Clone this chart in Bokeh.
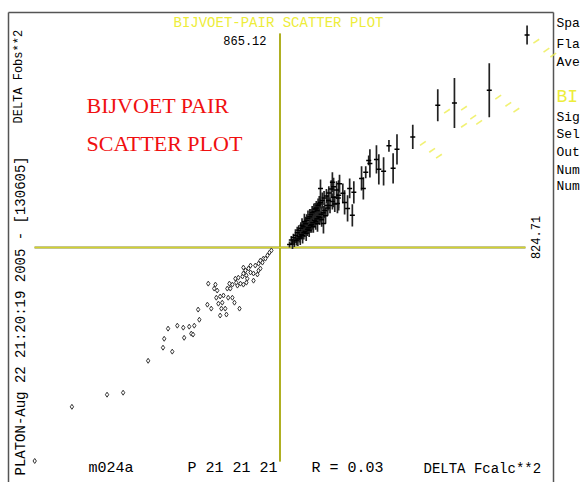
import math
from bokeh.plotting import figure
from bokeh.models import Range1d, ColumnDataSource
from bokeh.core.properties import value
from bokeh.embed import file_html
from bokeh.resources import INLINE

# ---- data -------------------------------------------------------------
FCALC_MAX = 824.71   # largest |DELTA Fcalc**2|
FOBS_MAX = 865.12    # largest |DELTA Fobs**2|

# negative Bijvoet differences (open diamonds)
neg_dfcalc = [-824, -699, -581, -527, -443, -393, -389, -362, -376, -345,
              -325, -322, -305, -298, -292, -288, -271, -275, -241, -217,
              -244, -231, -221, -211, -214, -201, -190, -201, -180, -197,
              -184, -207, -194, -174, -160, -153, -136, -177, -167, -160,
              -143, -133, -123, -113, -150, -140, -126, -113, -123, -106,
              -99, -89, -76, -83, -72, -59, -72, -66, -56, -42,
              -35, -89, -110, -123, -29, -49, -66, -99, -116, -147, -170]
neg_dfobs = [-863, -644, -595, -587, -458, -405, -369, -421, -328, -316,
             -324, -365, -320, -348, -352, -316, -292, -251, -146, -150,
             -231, -247, -166, -174, -203, -198, -194, -275, -271, -247,
             -247, -227, -223, -203, -203, -223, -247, -166, -166, -150,
             -154, -146, -150, -142, -126, -122, -117, -113, -81, -85,
             -101, -105, -109, -73, -65, -61, -93, -85, -45, -32,
             -20, -134, -126, -105, -12, -45, -53, -73, -93, -142, -146]

# positive Bijvoet differences with their standard uncertainties
pos_dfcalc = [830, 703, 586, 530, 446, 393, 366, 380, 348, 332,
              324, 302, 298, 288, 274, 280, 248, 234, 211, 243,
              227, 217, 197, 193, 180, 176, 163, 159, 146, 136,
              125,
              32, 38, 42, 45, 48, 52, 55, 58, 60, 63,
              65, 68, 70, 72, 74, 76, 78, 80, 82, 84,
              86, 88, 90, 92, 94, 96, 98, 100, 102, 104,
              106, 108, 110, 112, 114, 116, 118, 120, 122, 124,
              126, 128, 130, 132, 134, 136, 138, 140, 142, 145,
              148, 150, 153, 156, 160, 164, 168, 172, 176, 180,
              184, 190, 196, 200]
pos_dfobs = [859, 636, 584, 575, 447, 397, 411, 320, 308, 316,
             356, 340, 352, 304, 279, 239, 223, 239, 219, 130,
             158, 182, 211, 178, 203, 264, 190, 170, 97, 239,
             150,
             12, 30, 14, 40, 22, 50, 28, 60, 34, 70,
             44, 38, 78, 52, 90, 48, 84, 60, 104, 66,
             96, 58, 110, 74, 118, 80, 70, 124, 88, 132,
             92, 140, 100, 84, 146, 110, 156, 104, 160, 116,
             96, 170, 124, 176, 120, 182, 134, 112, 190, 140,
             200, 150, 128, 208, 160, 220, 170, 236, 186, 246,
             176, 232, 200, 258]
pos_sigma = [38, 109, 101, 65, 49, 61, 24, 61, 57, 61,
             57, 57, 20, 24, 49, 45, 45, 40, 40, 45,
             53, 49, 61, 40, 40, 40, 40, 40, 40, 36,
             32,
             12, 16, 20, 16, 20, 24, 20, 24, 28, 20,
             24, 28, 24, 20, 28, 32, 24, 28, 32, 24,
             28, 32, 24, 28, 32, 24, 28, 32, 28, 24,
             32, 28, 28, 24, 32, 28, 24, 32, 28, 24,
             32, 28, 28, 32, 28, 24, 32, 28, 32, 28,
             28, 32, 32, 28, 32, 28, 32, 36, 32, 36,
             32, 36, 40, 36]

# yellow dashes at the strongest pairs
alt_dfcalc = [861, 895, 918, 733, 767, 794, 561, 618, 649, 618, 669, 480, 511, 534]
alt_dfobs = [834, 798, 778, 608, 579, 555, 551, 563, 527, 494, 506, 421, 393, 369]

# ---- page geometry ----------------------------------------------------
W, H = 581, 482
OX, OY = 279.5, 247.0          # pixel position of the origin
SX = FCALC_MAX / (525.0 - OX)   # data units per pixel
SY = FOBS_MAX / (OY - 33.0)


def gx(px):
    return (px - OX) * SX


def gy(py):
    return (OY - py) * SY


p = figure(width=W, height=H, output_backend="svg", toolbar_location=None,
           x_range=Range1d(gx(0), gx(W)), y_range=Range1d(gy(H), gy(0)),
           x_axis_type=None, y_axis_type=None, min_border=0,
           background_fill_color="white", border_fill_color="white")
p.outline_line_color = None
p.xgrid.visible = False
p.ygrid.visible = False

MONO = value("Liberation Mono")

# outer frame (left, top, right)
p.segment(x0=[gx(8), gx(8), gx(553)], y0=[gy(12), gy(12), gy(12)],
          x1=[gx(8), gx(553), gx(553)], y1=[gy(H), gy(12), gy(H)],
          line_color="#555555", line_width=1.5)

# zero axes
ax_src = ColumnDataSource(dict(x0=[-FCALC_MAX, 0], y0=[0, -FOBS_MAX],
                               x1=[FCALC_MAX, 0], y1=[0, FOBS_MAX]))
p.segment(x0="x0", y0="y0", x1="x1", y1="y1", source=ax_src,
          line_color="#8c8c18", line_width=2)
p.segment(x0="x0", y0="y0", x1="x1", y1="y1", source=ax_src,
          line_color="#e6e632", line_width=0.8)

# negative pairs
p.scatter(neg_dfcalc, neg_dfobs, marker="diamond", size=5,
          line_color="#333333", fill_color="white", line_width=1)

# positive pairs with sigma bars
pos_src = ColumnDataSource(dict(
    x=pos_dfcalc, y=pos_dfobs,
    lo=[y - s for y, s in zip(pos_dfobs, pos_sigma)],
    hi=[y + s for y, s in zip(pos_dfobs, pos_sigma)]))
p.segment(x0="x", y0="lo", x1="x", y1="hi", source=pos_src,
          line_color="#222222", line_width=1.7)
p.scatter("x", "y", source=pos_src, marker="dash", size=5,
          line_color="black", line_width=1.5)

# yellow dashes
p.scatter(alt_dfcalc, alt_dfobs, marker="dash", size=7, angle=0.6,
          line_color="#eeee50", line_width=1.6, line_alpha=0.8)

# ---- texts ------------------------------------------------------------
def put(txt, px, py, size, color="black", align="left", angle=0.0,
        font=MONO, baseline="middle"):
    p.text(x=[gx(px)], y=[gy(py)], text=[txt], text_font=font,
           text_font_size=f"{size}px", text_color=color, text_align=align,
           text_baseline=baseline, angle=angle)


put("BIJVOET-PAIR SCATTER PLOT", 278, 22, 14, color="#eded3a", align="center")
put("%.2f" % FOBS_MAX, 266, 40, 12, align="right")
put("%.2f" % FCALC_MAX, 535, 237, 12, align="center", angle=math.pi / 2)

put("PLATON-Aug 22 21:20:19 2005 - [130605]", 20, 475, 14, angle=math.pi / 2)
put("DELTA Fobs**2", 18, 123, 12, angle=math.pi / 2)

put("m024a", 88, 468, 15)
put("P 21 21 21", 187, 468, 15)
put("R = 0.03", 311, 468, 15)
put("DELTA Fcalc**2", 423, 468, 14)

SERIF = value("Liberation Serif")
put("BIJVOET PAIR", 86, 105, 22, color="#f01010", font=SERIF,
    baseline="alphabetic")
put("SCATTER PLOT", 86, 143, 22, color="#f01010", font=SERIF,
    baseline="alphabetic")

# right-hand summary panel, as far as the page shows it
for label, py in [("Spa", 23), ("Fla", 44), ("Ave", 62),
                  ("Sig", 117), ("Sel", 134), ("Out", 152),
                  ("Num", 170), ("Num", 186)]:
    put(label, 556, py, 13)
put("BI", 556, 96, 18, color="#eded3a")

open("out.html", "w").write(file_html(p, INLINE))
